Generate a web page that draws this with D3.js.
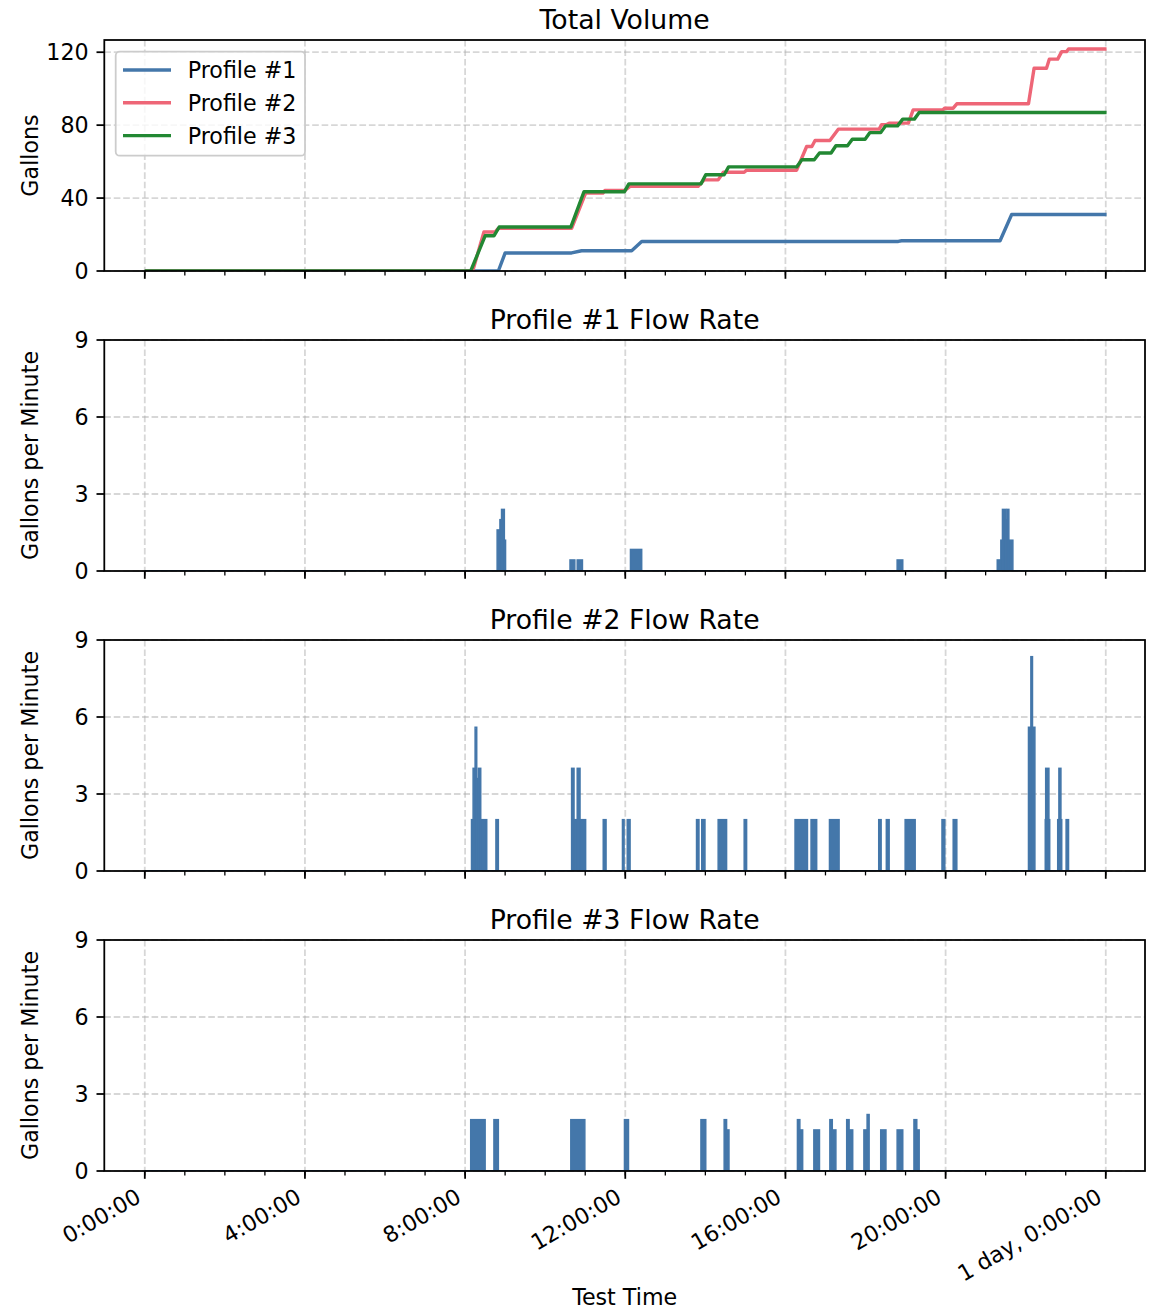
<!DOCTYPE html>
<html>
<head>
<meta charset="utf-8">
<script src="https://cdn.jsdelivr.net/npm/d3@7"></script>
<style>
  html, body { margin: 0; padding: 0; background: #fff; }
  svg { display: block; font-family: "DejaVu Sans", sans-serif; }
</style>
</head>
<body>
<svg id="chart" width="1152" height="1310"></svg>
<script>
// ---------------- DATA (hours since test start) ----------------
const xTickHours = [0, 4, 8, 12, 16, 20, 24];
const xTickLabels = ["0:00:00", "4:00:00", "8:00:00", "12:00:00", "16:00:00", "20:00:00", "1 day, 0:00:00"];
const xMinorHours = d3.range(0, 25, 1);

const seriesNames = ["Profile #1", "Profile #2", "Profile #3"];
const seriesColors = ["#4477AA", "#EE6677", "#228833"];

// Total volume (gallons) [hour, gallons]
const volume1 = [[0,0],[8.83,0],[9.0,9.9],[10.66,9.9],[10.91,11.1],[12.16,11.1],[12.41,16.2],
  [18.82,16.2],[18.9,16.6],[21.36,16.6],[21.65,31.0],[24.02,31.0]];
const volume2 = [[0,0],[8.19,0],[8.47,21.4],[8.75,21.4],[8.83,23.4],[10.66,23.4],[11.01,42.7],
  [11.44,42.7],[11.49,44.2],[11.99,44.2],[12.12,46.4],[13.82,46.4],[13.97,50.0],[14.32,50.0],
  [14.45,54.2],[14.97,54.2],[15.03,55.3],[16.28,55.3],[16.53,68.3],[16.66,68.3],[16.74,71.6],
  [17.11,71.6],[17.32,77.8],[18.34,77.8],[18.40,80.2],[18.52,80.2],[18.59,81.1],[19.07,81.1],
  [19.19,88.4],[19.93,88.4],[19.98,89.3],[20.19,89.3],[20.28,91.7],[22.07,91.7],[22.21,111.2],
  [22.52,111.2],[22.59,116.2],[22.80,116.2],[22.90,120.3],[23.02,120.3],[23.07,121.8],[24.02,121.8]];
const volume3 = [[0,0],[8.14,0],[8.5,19.3],[8.72,19.3],[8.85,24.1],[10.64,24.1],[10.97,43.5],
  [11.98,43.5],[12.09,47.8],[13.89,47.8],[14.01,52.8],[14.47,52.8],[14.58,57.1],[16.28,57.1],
  [16.41,61.0],[16.72,61.0],[16.85,64.7],[17.14,64.7],[17.26,68.7],[17.55,68.7],[17.67,72.3],
  [17.99,72.3],[18.11,75.9],[18.38,75.9],[18.5,79.6],[18.8,79.6],[18.93,83.3],[19.22,83.3],
  [19.34,86.9],[24.02,86.9]];

// Flow rate (gallons per minute) [start hour, end hour, gpm]
const flow1 = [[8.80,8.87,1.6],[8.87,8.91,2.0],[8.91,8.98,2.4],[8.98,9.01,1.2],
  [10.62,10.74,0.43],[10.80,10.93,0.43],[12.13,12.41,0.84],[18.79,18.93,0.43],
  [21.29,21.38,0.43],[21.38,21.42,1.2],[21.42,21.50,2.4],[21.50,21.53,2.0],[21.53,21.58,2.4],[21.58,21.68,1.2]];
const flow2 = [[8.16,8.20,2],[8.20,8.25,4],[8.25,8.29,5.6],[8.29,8.33,3.6],[8.33,8.39,4],[8.39,8.54,2],
  [8.77,8.83,2],[10.66,10.72,4],[10.72,10.80,2],[10.80,10.87,4],[10.87,11.01,2],
  [11.45,11.52,2],[11.93,11.97,2],[12.05,12.12,2],[13.78,13.84,2],[13.91,13.99,2],[14.32,14.53,2],
  [14.97,15.03,2],[16.24,16.55,2],[16.64,16.78,2],[17.10,17.34,2],[18.33,18.39,2],[18.52,18.59,2],
  [18.99,19.24,2],[19.91,19.98,2],[20.19,20.28,2],
  [22.07,22.13,5.6],[22.13,22.17,8.35],[22.17,22.23,5.6],
  [22.49,22.50,2],[22.50,22.58,4],[22.58,22.60,2],
  [22.80,22.83,2],[22.83,22.88,4],[22.88,22.90,2],[23.01,23.07,2]];
const flow3 = [[8.14,8.50,2],[8.72,8.83,2],[10.64,10.99,2],[11.98,12.08,2],[13.89,14.01,2],
  [14.47,14.53,2],[14.53,14.59,1.6],[16.30,16.36,2],[16.36,16.43,1.6],[16.71,16.85,1.6],
  [17.11,17.17,2],[17.17,17.26,1.6],[17.53,17.59,2],[17.59,17.68,1.6],
  [17.96,18.04,1.6],[18.04,18.09,2.2],[18.38,18.51,1.6],[18.79,18.93,1.6],
  [19.21,19.28,2],[19.28,19.34,1.6]];

const volumeTicks = [0, 40, 80, 120];
const flowTicks = [0, 3, 6, 9];

// ---------------- LAYOUT ----------------
const svg = d3.select("#chart");
const left = 104.3, right = 1145;
const x = d3.scaleLinear().domain([-1.011, 24.98]).range([left, right]);
const panelTops = [40, 340, 640, 940];
const panelH = 231;
const FS = 22.2, TFS = 26.7;
const LW = 1.78, TL = 7.8, TP = 7.8;
const gridStyle = g => g.attr("stroke", "#b0b0b0").attr("stroke-opacity", 0.5)
  .attr("stroke-width", LW).attr("stroke-dasharray", "6.6,2.85");

const panels = [
  {title: "Total Volume", ylabel: "Gallons", ydom: [0, 126.7], ticks: volumeTicks, kind: "vol"},
  {title: "Profile #1 Flow Rate", ylabel: "Gallons per Minute", ydom: [0, 9], ticks: flowTicks, kind: "flow", data: flow1},
  {title: "Profile #2 Flow Rate", ylabel: "Gallons per Minute", ydom: [0, 9], ticks: flowTicks, kind: "flow", data: flow2},
  {title: "Profile #3 Flow Rate", ylabel: "Gallons per Minute", ydom: [0, 9], ticks: flowTicks, kind: "flow", data: flow3}
];

panels.forEach((p, i) => {
  const top = panelTops[i], bottom = top + panelH;
  const y = d3.scaleLinear().domain(p.ydom).range([bottom, top]);
  const g = svg.append("g");

  // grid
  const grid = g.append("g");
  grid.selectAll("line.vg").data(xTickHours).join("line")
    .attr("x1", d => x(d)).attr("x2", d => x(d)).attr("y1", top).attr("y2", bottom).call(gridStyle);
  grid.selectAll("line.hg").data(p.ticks).join("line")
    .attr("x1", left).attr("x2", right).attr("y1", d => y(d)).attr("y2", d => y(d)).call(gridStyle);

  // data
  const clip = "clip" + i;
  svg.append("clipPath").attr("id", clip).append("rect")
    .attr("x", left).attr("y", top).attr("width", right - left).attr("height", panelH);
  const dg = g.append("g").attr("clip-path", `url(#${clip})`);
  if (p.kind === "vol") {
    const line = d3.line().x(d => x(d[0])).y(d => y(d[1]));
    [volume1, volume2, volume3].forEach((s, k) => {
      dg.append("path").datum(s).attr("d", line).attr("fill", "none")
        .attr("stroke", seriesColors[k]).attr("stroke-width", 3.4)
        .attr("stroke-linejoin", "round").attr("stroke-linecap", "butt");
    });
  } else {
    dg.append("line").attr("x1", x(0)).attr("x2", x(24.02)).attr("y1", y(0)).attr("y2", y(0))
      .attr("stroke", "#4477AA").attr("stroke-width", 2);
    dg.selectAll("rect.bar").data(p.data).join("rect")
      .attr("x", d => x(d[0])).attr("width", d => Math.max(0.5, x(d[1]) - x(d[0])))
      .attr("y", d => y(d[2])).attr("height", d => y(0) - y(d[2]))
      .attr("fill", "#4477AA").attr("stroke", "#4477AA").attr("stroke-width", 1.5);
  }

  // spines
  g.append("rect").attr("x", left).attr("y", top).attr("width", right - left).attr("height", panelH)
    .attr("fill", "none").attr("stroke", "#000").attr("stroke-width", LW);

  // y ticks
  const yt = g.append("g");
  yt.selectAll("line").data(p.ticks).join("line")
    .attr("x1", left - TL).attr("x2", left).attr("y1", d => y(d)).attr("y2", d => y(d))
    .attr("stroke", "#000").attr("stroke-width", LW);
  yt.selectAll("text").data(p.ticks).join("text")
    .attr("x", left - TL - TP).attr("y", d => y(d)).attr("dy", "0.36em")
    .attr("text-anchor", "end").attr("font-size", FS).attr("fill", "#000").text(d => d);

  // x ticks
  const xt = g.append("g");
  xt.selectAll("line.mn").data(xMinorHours).join("line")
    .attr("x1", d => x(d)).attr("x2", d => x(d)).attr("y1", bottom).attr("y2", bottom + 4.4)
    .attr("stroke", "#000").attr("stroke-width", 1.3);
  xt.selectAll("line.mj").data(xTickHours).join("line")
    .attr("x1", d => x(d)).attr("x2", d => x(d)).attr("y1", bottom).attr("y2", bottom + TL)
    .attr("stroke", "#000").attr("stroke-width", LW);
  if (i === panels.length - 1) {
    const h = 0.97 * FS, dsc = 0.21 * FS;
    xt.selectAll("text").data(xTickHours).join("text")
      .attr("transform", d => `translate(${x(d)},${bottom + TL + TP + 0.866 * h}) rotate(-30)`)
      .attr("x", 0).attr("y", -dsc)
      .attr("text-anchor", "end").attr("font-size", FS).attr("fill", "#000")
      .text((d, k) => xTickLabels[k]);
  }

  // title
  g.append("text").attr("x", (left + right) / 2).attr("y", top - 11)
    .attr("text-anchor", "middle").attr("font-size", TFS).attr("fill", "#000").text(p.title);

  // y label
  g.append("text").attr("transform", `translate(37.5,${(top + bottom) / 2}) rotate(-90)`)
    .attr("text-anchor", "middle").attr("font-size", FS).attr("fill", "#000").text(p.ylabel);
});

// x label
svg.append("text").attr("x", (left + right) / 2).attr("y", 1305)
  .attr("text-anchor", "middle").attr("font-size", FS).attr("fill", "#000").text("Test Time");

// legend
const lg = svg.append("g");
lg.append("rect").attr("x", 115.7).attr("y", 51.7).attr("width", 189.3).attr("height", 104)
  .attr("rx", 4).attr("fill", "#fff").attr("fill-opacity", 0.8)
  .attr("stroke", "#cccccc").attr("stroke-width", LW);
seriesNames.forEach((n, k) => {
  const cy = 70 + k * 32.8;
  lg.append("line").attr("x1", 123).attr("x2", 171).attr("y1", cy).attr("y2", cy)
    .attr("stroke", seriesColors[k]).attr("stroke-width", 3.4);
  lg.append("text").attr("x", 187.7).attr("y", cy + 8.3).attr("font-size", FS)
    .attr("fill", "#000").text(n);
});
</script>
</body>
</html>
